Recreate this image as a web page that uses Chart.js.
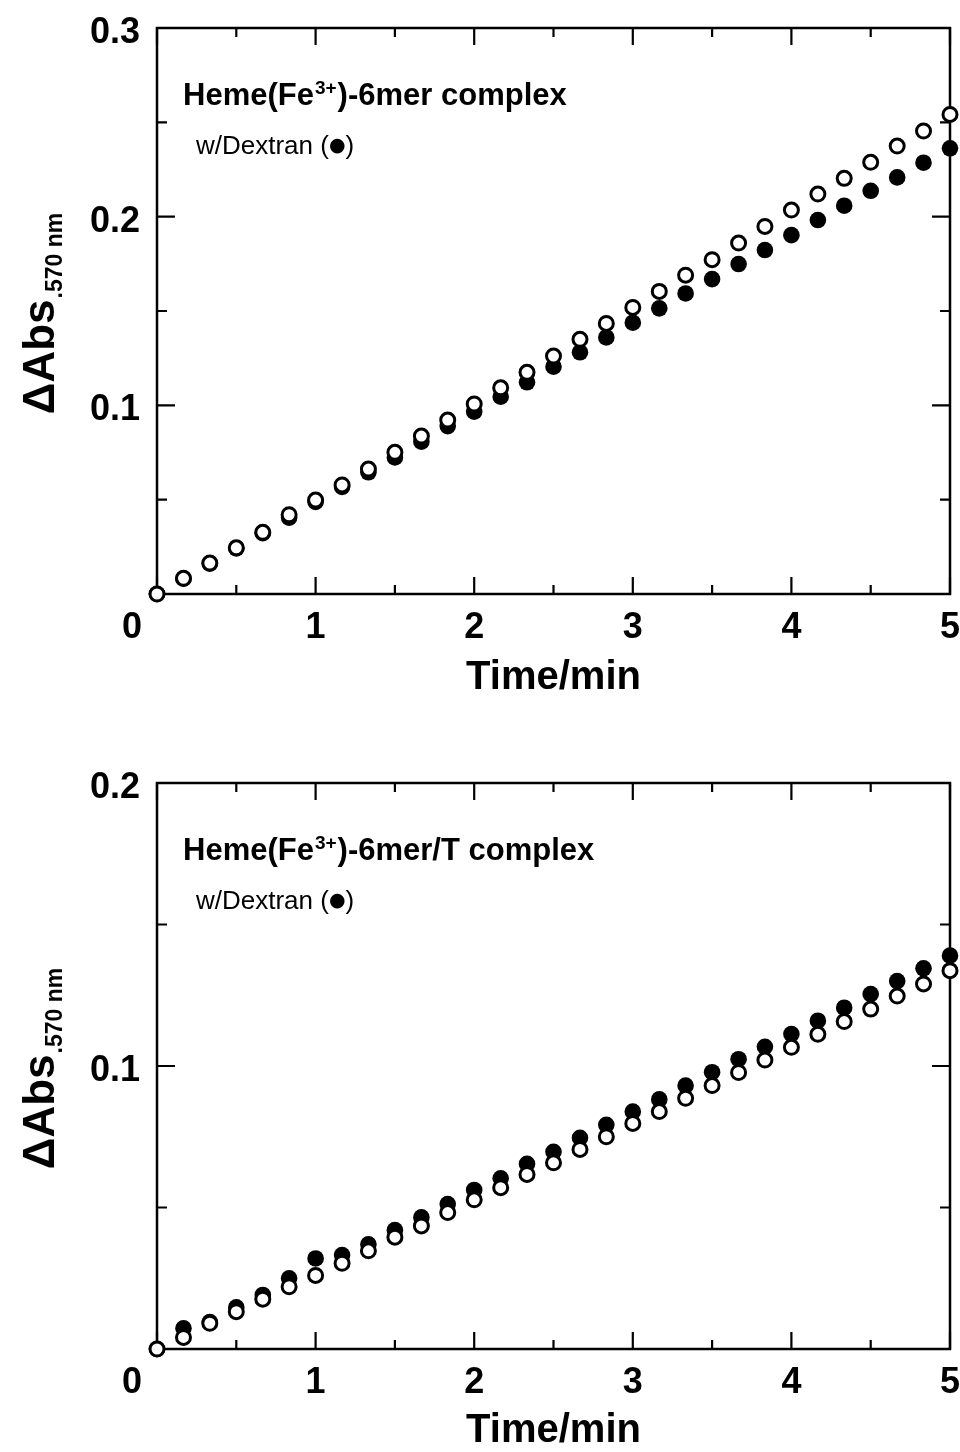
<!DOCTYPE html>
<html>
<head>
<meta charset="utf-8">
<script src="https://cdn.jsdelivr.net/npm/chart.js@4.4.1/dist/chart.umd.min.js"></script>
<style>
  html, body { margin: 0; padding: 0; background: #fff; }
  .panel { position: relative; width: 960px; height: 726px; }
</style>
</head>
<body>
<div class="panel"><canvas id="chartTop"></canvas></div>
<div class="panel"><canvas id="chartBottom"></canvas></div>
<script>
// =========================
// DATA
// =========================

const timeMin = [0, 0.167, 0.333, 0.5, 0.667, 0.833, 1, 1.167, 1.333, 1.5,
  1.667, 1.833, 2, 2.167, 2.333, 2.5, 2.667, 2.833, 3, 3.167, 3.333, 3.5,
  3.667, 3.833, 4, 4.167, 4.333, 4.5, 4.667, 4.833, 5];

// top panel : Heme(Fe3+)-6mer complex
const topOpen = [0, 0.0083, 0.0164, 0.0245, 0.0327, 0.0420, 0.0498, 0.0578,
  0.0662, 0.0751, 0.0837, 0.0922, 0.1007, 0.1093, 0.1175, 0.1261, 0.1350,
  0.1434, 0.1519, 0.1604, 0.1690, 0.1772, 0.1860, 0.1948, 0.2035, 0.2120,
  0.2203, 0.2288, 0.2374, 0.2454, 0.2542];
const topDextran = [0, 0.0081, 0.0161, 0.0242, 0.0322, 0.0405, 0.0488, 0.0568,
  0.0645, 0.0724, 0.0807, 0.0890, 0.0966, 0.1046, 0.1122, 0.1205, 0.1281,
  0.1360, 0.1438, 0.1514, 0.1593, 0.1669, 0.1749, 0.1823, 0.1902, 0.1982,
  0.2058, 0.2137, 0.2208, 0.2286, 0.2362];

// bottom panel : Heme(Fe3+)-6mer/T complex
const botOpen = [0, 0.0041, 0.0091, 0.0132, 0.0176, 0.0220, 0.0260, 0.0303,
  0.0347, 0.0395, 0.0435, 0.0482, 0.0527, 0.0570, 0.0617, 0.0658, 0.0705,
  0.0750, 0.0797, 0.0839, 0.0886, 0.0931, 0.0977, 0.1021, 0.1066, 0.1112,
  0.1157, 0.1201, 0.1247, 0.1290, 0.1337];
const botDextran = [0, 0.0073, 0.0095, 0.0147, 0.0191, 0.0250, 0.0320, 0.0332,
  0.0370, 0.0420, 0.0465, 0.0512, 0.0562, 0.0603, 0.0654, 0.0697, 0.0746,
  0.0792, 0.0839, 0.0882, 0.0931, 0.0978, 0.1024, 0.1068, 0.1113, 0.1160,
  0.1206, 0.1254, 0.1300, 0.1345, 0.1390];

// ticks
const xTicks = [0, 1, 2, 3, 4, 5];
const xMinorTicks = [0.5, 1.5, 2.5, 3.5, 4.5];
const topYTicks = [0, 0.1, 0.2, 0.3];
const topYMinor = [0.05, 0.15, 0.25];
const botYTicks = [0, 0.1, 0.2];
const botYMinor = [0.05, 0.15];

// =========================
// STYLE
// =========================

const FONT = '"Liberation Sans", Arial, sans-serif';
const TICK_SIZE = 36;
const X_TICK_PAD = 12;

Chart.defaults.color = "#000";
Chart.defaults.font.family = FONT;

// =========================
// PLUGINS
// =========================

const frameTicks = {
  id: "frameTicks",
  beforeDatasetsDraw(chart, args, opts)
  {
    const { ctx, chartArea: a, scales: { x, y } } = chart;
    ctx.save();
    ctx.strokeStyle = "#000";
    ctx.lineWidth = 2.5;
    ctx.strokeRect(a.left, a.top, a.right - a.left, a.bottom - a.top);

    ctx.lineWidth = 2.2;
    ctx.beginPath();
    const tickX = (v, len) =>
    {
      const px = x.getPixelForValue(v);
      ctx.moveTo(px, a.bottom); ctx.lineTo(px, a.bottom - len);
      ctx.moveTo(px, a.top); ctx.lineTo(px, a.top + len);
    };
    const tickY = (v, len) =>
    {
      const py = y.getPixelForValue(v);
      ctx.moveTo(a.left, py); ctx.lineTo(a.left + len, py);
      ctx.moveTo(a.right, py); ctx.lineTo(a.right - len, py);
    };
    xTicks.forEach(v => tickX(v, 17));
    xMinorTicks.forEach(v => tickX(v, 9));
    opts.yMajor.forEach(v => tickY(v, 18));
    opts.yMinor.forEach(v => tickY(v, 10));
    ctx.stroke();
    ctx.restore();
  }
};

const panelText = {
  id: "panelText",
  afterDraw(chart, args, opts)
  {
    const { ctx, chartArea: a, scales: { x } } = chart;
    ctx.save();
    ctx.fillStyle = "#000";
    ctx.textAlign = "left";
    ctx.textBaseline = "alphabetic";

    // heading inside the plot
    let tx = a.left + 26;
    const ty = a.top + 77;
    ctx.font = "bold 31px " + FONT;
    ctx.fillText(opts.head, tx, ty);
    tx += ctx.measureText(opts.head).width;
    ctx.font = "bold 19px " + FONT;
    ctx.fillText(opts.sup, tx + 1, ty - 11);
    tx += ctx.measureText(opts.sup).width + 2;
    ctx.font = "bold 31px " + FONT;
    ctx.fillText(opts.tail, tx, ty);

    // note with a bigger bullet
    let nx = a.left + 39;
    const ny = a.top + 126;
    ctx.font = "26px " + FONT;
    ctx.fillText(opts.note, nx, ny);
    nx += ctx.measureText(opts.note).width;
    ctx.font = "19px DejaVu Sans, sans-serif";
    ctx.fillText("●", nx, ny - 3);
    nx += ctx.measureText("●").width;
    ctx.font = "26px " + FONT;
    ctx.fillText(")", nx, ny);

    // "0" on the x axis sits left of the corner
    ctx.font = "bold " + TICK_SIZE + "px " + FONT;
    ctx.textAlign = "center";
    ctx.textBaseline = "middle";
    ctx.fillText("0", x.getPixelForValue(0) - 25,
      a.bottom + X_TICK_PAD + TICK_SIZE * 0.6);

    // y axis title with subscript
    ctx.translate(38, (a.top + a.bottom) / 2);
    ctx.rotate(-Math.PI / 2);
    ctx.textAlign = "left";
    ctx.textBaseline = "alphabetic";
    ctx.font = "bold 44px " + FONT;
    const w1 = ctx.measureText("ΔAbs").width;
    ctx.font = "bold 23px " + FONT;
    const w2 = ctx.measureText(".570 nm").width;
    const sx = -(w1 + w2) / 2 - 3;
    ctx.font = "bold 44px " + FONT;
    ctx.fillText("ΔAbs", sx, 16);
    ctx.font = "bold 23px " + FONT;
    ctx.fillText(".570 nm", sx + w1 + 1, 24);
    ctx.restore();
  }
};

// =========================
// CHART
// =========================

function makePanel(id, openVals, dexVals, yTicks, yMinor, yMax, head, padTop, xHeight, titlePad)
{
  const pts = vals => timeMin.map((t, i) => ({ x: t, y: vals[i] }));

  return new Chart(document.getElementById(id), {
    type: "scatter",
    data: {
      datasets: [
        {
          label: "without Dextran",
          data: pts(openVals),
          pointRadius: 7,
          pointBorderWidth: 3,
          pointBackgroundColor: "#fff",
          pointBorderColor: "#000",
          clip: false
        },
        {
          label: "w/Dextran",
          data: pts(dexVals),
          pointRadius: 8.3,
          pointBorderWidth: 0,
          pointBackgroundColor: "#000",
          pointBorderColor: "#000",
          clip: false
        }
      ]
    },
    options: {
      responsive: true,
      maintainAspectRatio: false,
      animation: false,
      layout: { padding: { top: padTop, right: 9, left: 0, bottom: 0 } },
      plugins: {
        legend: { display: false },
        tooltip: { enabled: false },
        frameTicks: { yMajor: yTicks, yMinor: yMinor },
        panelText: {
          head: "Heme(Fe",
          sup: "3+",
          tail: head,
          note: "w/Dextran ("
        }
      },
      scales: {
        x: {
          type: "linear",
          min: 0,
          max: 5,
          grid: { display: false, drawTicks: false },
          border: { display: false },
          afterBuildTicks: s => { s.ticks = xTicks.map(v => ({ value: v })); },
          afterFit: s =>
          {
            s.height = xHeight;
            s.paddingLeft = 0;
            s.paddingRight = 0;
          },
          ticks: {
            padding: X_TICK_PAD,
            maxRotation: 0,
            font: { size: TICK_SIZE, weight: "bold" },
            callback: v => (v === 0 ? "" : String(v))
          },
          title: {
            display: true,
            text: "Time/min",
            font: { size: 40, weight: "bold", lineHeight: 1 },
            padding: { top: 0, bottom: titlePad }
          }
        },
        y: {
          type: "linear",
          min: 0,
          max: yMax,
          grid: { display: false, drawTicks: false },
          border: { display: false },
          afterBuildTicks: s => { s.ticks = yTicks.map(v => ({ value: v })); },
          afterFit: s =>
          {
            s.width = 157;
            s.paddingTop = 0;
            s.paddingBottom = 0;
          },
          ticks: {
            padding: 17,
            labelOffset: 5,
            font: { size: TICK_SIZE, weight: "bold" },
            callback: v => (v === 0 ? "" : v.toFixed(1))
          }
        }
      }
    },
    plugins: [frameTicks, panelText]
  });
}

makePanel("chartTop", topOpen, topDextran, topYTicks, topYMinor, 0.3,
  ")-6mer complex", 28, 132, 28);

makePanel("chartBottom", botOpen, botDextran, botYTicks, botYMinor, 0.2,
  ")-6mer/T complex", 57, 103, 1);
</script>
</body>
</html>
